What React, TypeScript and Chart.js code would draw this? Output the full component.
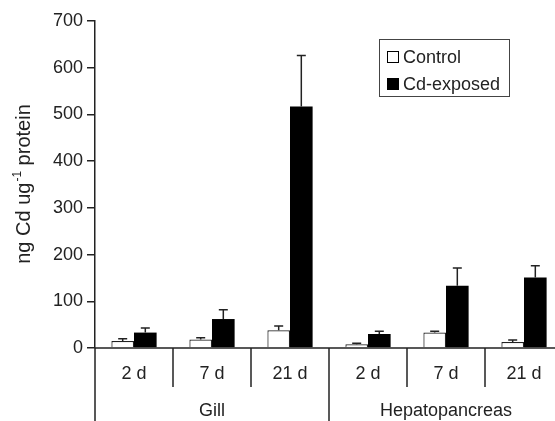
import React, { useEffect, useRef } from "react";
import { Chart, registerables } from "chart.js";

Chart.register(...registerables);

const FONT = "'Liberation Sans', Arial, Helvetica, sans-serif";

const dayLabels = ["2 d", "7 d", "21 d", "2 d", "7 d", "21 d"];
const groupLabels = ["Gill", "Hepatopancreas"];
const groupSizes = [3, 3];
const controlValues = [15, 18, 38, 8, 33, 13];
const controlErrors = [5, 4, 9, 2, 3, 4];
const cdValues = [33, 62, 517, 30, 133, 151];
const cdErrors = [10, 20, 109, 6, 38, 25];
const seriesNames = ["Control", "Cd-exposed"];
const yMax = 700;
const yStep = 100;

const INK = "#222";

const overlayPlugin = {
  id: "overlay",
  afterDatasetsDraw(chart: any) {
    const ctx = chart.ctx;
    const yScale = chart.scales.y;
    const errs = [controlErrors, cdErrors];
    ctx.save();
    ctx.strokeStyle = INK;
    ctx.lineWidth = 1.5;
    chart.data.datasets.forEach((ds: any, d: number) => {
      const meta = chart.getDatasetMeta(d);
      meta.data.forEach((el: any, i: number) => {
        const v = ds.data[i];
        const top = yScale.getPixelForValue(v + errs[d][i]);
        ctx.beginPath();
        ctx.moveTo(el.x, el.y);
        ctx.lineTo(el.x, top);
        ctx.moveTo(el.x - 4.5, top);
        ctx.lineTo(el.x + 4.5, top);
        ctx.stroke();
      });
    });
    ctx.restore();
  },
  afterDraw(chart: any) {
    const ctx = chart.ctx;
    const { left, right, top, bottom } = chart.chartArea;
    const H = chart.height;
    const xs = chart.scales.x;
    ctx.save();
    ctx.strokeStyle = INK;
    ctx.fillStyle = INK;
    ctx.lineWidth = 1.5;
    // x axis line
    ctx.beginPath();
    ctx.moveTo(left, bottom);
    ctx.lineTo(right + 10, bottom);
    // y axis extension
    ctx.moveTo(left, bottom);
    ctx.lineTo(left, H);
    ctx.stroke();
    // separators
    const n = dayLabels.length;
    const bounds: number[] = [];
    for (let i = 1; i < n; i++) {
      bounds.push((xs.getPixelForValue(i - 1) + xs.getPixelForValue(i)) / 2);
    }
    const groupBounds: number[] = [];
    let acc = 0;
    groupSizes.forEach((s, g) => {
      acc += s;
      if (g < groupSizes.length - 1) groupBounds.push(acc);
    });
    bounds.forEach((bx, k) => {
      const isGroup = groupBounds.includes(k + 1);
      ctx.beginPath();
      ctx.moveTo(bx, bottom);
      ctx.lineTo(bx, isGroup ? H : bottom + 39);
      ctx.stroke();
    });
    // day labels
    ctx.font = `18px ${FONT}`;
    ctx.textAlign = "center";
    ctx.textBaseline = "middle";
    dayLabels.forEach((lab, i) => {
      ctx.fillText(lab, xs.getPixelForValue(i), bottom + 26);
    });
    // group labels
    const edges = [left, ...groupBounds.map((g) => bounds[g - 1]), right];
    groupLabels.forEach((lab, g) => {
      ctx.fillText(lab, (edges[g] + edges[g + 1]) / 2, bottom + 63);
    });
    // y title
    ctx.save();
    ctx.translate(30, (top + bottom) / 2);
    ctx.rotate(-Math.PI / 2);
    ctx.textAlign = "left";
    ctx.textBaseline = "alphabetic";
    const big = `20px ${FONT}`;
    const small = `12px ${FONT}`;
    const p1 = "ng Cd ug";
    const sup = "-1";
    const p2 = " protein";
    ctx.font = big;
    const w1 = ctx.measureText(p1).width;
    const w3 = ctx.measureText(p2).width;
    ctx.font = small;
    const w2 = ctx.measureText(sup).width;
    let x0 = -(w1 + w2 + w3) / 2;
    ctx.font = big;
    ctx.fillText(p1, x0, 0);
    x0 += w1;
    ctx.font = small;
    ctx.fillText(sup, x0 + 1, -9);
    x0 += w2 + 1;
    ctx.font = big;
    ctx.fillText(p2, x0, 0);
    ctx.restore();
    // legend
    ctx.lineWidth = 1;
    ctx.strokeStyle = "#444";
    ctx.strokeRect(379.5, 39.5, 130, 57);
    const rows = [57, 84];
    const fills = ["#ffffff", "#000000"];
    rows.forEach((ry, r) => {
      ctx.fillStyle = fills[r];
      ctx.fillRect(387, ry - 6, 12, 12);
      ctx.strokeStyle = "#000";
      ctx.strokeRect(387.5, ry - 5.5, 11, 11);
      ctx.fillStyle = INK;
      ctx.font = `18px ${FONT}`;
      ctx.textAlign = "left";
      ctx.textBaseline = "middle";
      ctx.fillText(seriesNames[r], 403, ry + 1);
    });
    ctx.restore();
  },
};

export default function App() {
  const ref = useRef<HTMLCanvasElement | null>(null);
  useEffect(() => {
    if (!ref.current) return;
    const chart = new Chart(ref.current, {
      type: "bar",
      data: {
        labels: dayLabels.map((_, i) => String(i)),
        datasets: [
          {
            label: seriesNames[0],
            data: controlValues,
            backgroundColor: "#ffffff",
            borderColor: INK,
            borderWidth: 1.2,
            barPercentage: 1,
            categoryPercentage: 0.58,
          },
          {
            label: seriesNames[1],
            data: cdValues,
            backgroundColor: "#000000",
            borderColor: "#000000",
            borderWidth: 0,
            barPercentage: 1,
            categoryPercentage: 0.58,
          },
        ],
      },
      options: {
        responsive: false,
        animation: false,
        devicePixelRatio: 1,
        layout: { padding: { top: 21, right: 7, left: 0, bottom: 0 } },
        plugins: {
          legend: { display: false },
          tooltip: { enabled: false },
          title: { display: false },
        },
        scales: {
          x: {
            ticks: { display: false },
            grid: { display: false },
            border: { display: false },
            afterFit: (s: any) => {
              s.height = 73;
            },
          },
          y: {
            min: 0,
            max: yMax,
            ticks: {
              stepSize: yStep,
              color: INK,
              font: { family: FONT, size: 18 },
              padding: 4,
            },
            grid: {
              drawOnChartArea: false,
              drawTicks: true,
              tickLength: 8,
              color: INK,
              lineWidth: 1.5,
            },
            border: { display: true, color: INK, width: 1.5 },
            afterFit: (s: any) => {
              s.width = 95;
            },
          },
        },
      },
      plugins: [overlayPlugin],
    } as any);
    return () => chart.destroy();
  }, []);
  return (
    <div
      style={{
        position: "fixed",
        left: 0,
        top: 0,
        width: 555,
        height: 421,
        overflow: "hidden",
        background: "#fff",
      }}
    >
      <canvas ref={ref} width={570} height={421} style={{ display: "block" }} />
    </div>
  );
}
